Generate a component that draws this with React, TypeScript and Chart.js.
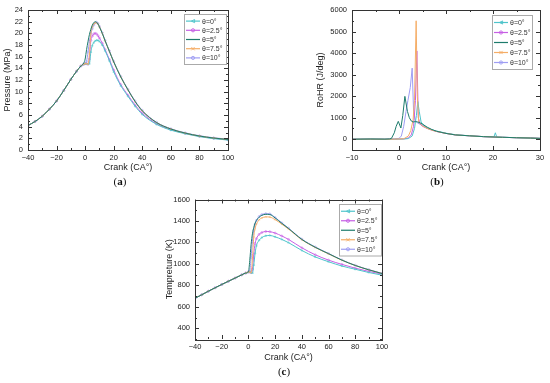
import React, { useEffect, useRef } from "react";
import { Chart, registerables } from "chart.js";
Chart.register(...registerables);

const FONT = "'Liberation Sans', Arial, sans-serif";

const seriesLabels = ["θ=0°", "θ=2.5°", "θ=5°", "θ=7.5°", "θ=10°"];
const seriesColors = ["#4fc4cb", "#c65fe4", "#1d7b6c", "#f5ad66", "#9e9df3"];
const seriesMarkers = ["triangle", "circle", "none", "crossRot", "circle"];

// ---------- (a) Pressure ----------
const crankA = [-40, -35, -30, -25, -20, -15, -10, -6, -3, -1, 0, 1, 2, 3, 4, 5, 6, 7, 8, 9, 10, 12, 14, 17, 20, 25, 30, 35, 40, 50, 60, 70, 80, 90, 100];
const compA = [4.2, 4.9, 5.8, 7.0, 8.4, 10.2, 12.1, 13.5, 14.4];
const pressure0 = [...compA, 14.7, 14.8, 14.8, 14.7, 14.8, 16.8, 17.9, 18.4, 18.7, 18.8, 18.8, 18.6, 18.0, 17.0, 15.3, 13.4, 11.0, 9.2, 7.5, 6.1, 4.4, 3.4, 2.8, 2.3, 1.95, 1.7];
const pressure25 = [...compA, 14.7, 14.8, 14.8, 14.7, 15.6, 18.8, 19.5, 19.9, 20.0, 19.9, 19.6, 19.2, 18.3, 17.2, 15.5, 13.7, 11.2, 9.4, 7.7, 6.3, 4.5, 3.5, 2.85, 2.35, 2.0, 1.75];
const pressure5 = [...compA, 14.9, 15.6, 17.2, 18.6, 19.8, 20.7, 21.4, 21.8, 22.0, 21.9, 21.6, 21.1, 20.0, 18.7, 16.9, 15.1, 12.5, 10.3, 8.3, 6.7, 4.7, 3.6, 2.9, 2.4, 2.05, 1.8];
const pressure75 = [...compA, 14.7, 14.8, 14.8, 14.7, 16.5, 20.0, 21.1, 21.6, 21.8, 21.8, 21.6, 21.1, 20.0, 18.7, 16.9, 15.1, 12.5, 10.3, 8.3, 6.7, 4.7, 3.6, 2.9, 2.4, 2.05, 1.8];
const pressure10 = [...compA, 14.7, 14.8, 15.2, 16.8, 18.6, 19.9, 20.8, 21.4, 21.8, 21.9, 21.7, 21.2, 20.1, 18.8, 17.0, 15.2, 12.6, 10.4, 8.4, 6.8, 4.75, 3.65, 2.95, 2.45, 2.1, 1.85];
const ticksAx = [-40, -20, 0, 20, 40, 60, 80, 100];
const ticksAy = [0, 2, 4, 6, 8, 10, 12, 14, 16, 18, 20, 22, 24];

// ---------- (b) RoHR ----------
const crankB0 = [-10, -6, -3, -1, 1, 2, 2.8, 3.3, 3.7, 4.0, 4.3, 4.7, 5.2, 6, 7, 8, 10, 12, 15, 18, 20.2, 20.5, 20.8, 22, 25, 28, 30];
const rohr0 = [0, 10, 0, 5, 10, 30, 150, 500, 1100, 1750, 1300, 800, 650, 520, 440, 380, 280, 210, 160, 120, 110, 300, 100, 95, 70, 50, 40];
const crankB25 = [-10, -6, -3, -1, 1, 2, 2.6, 3.1, 3.5, 3.8, 4.1, 4.5, 5, 6, 7, 8, 10, 12, 15, 18, 22, 25, 28, 30];
const rohr25 = [0, 5, 0, 5, 15, 60, 200, 600, 1800, 4100, 1000, 700, 600, 500, 420, 360, 270, 200, 160, 120, 90, 70, 55, 40];
const crankB5 = [-10, -6, -3, -2, -1.6, -1, -0.6, -0.15, 0.4, 0.8, 1.25, 1.8, 2.2, 2.6, 3, 3.5, 4, 4.5, 5, 6, 7, 8, 10, 12, 15, 18, 22, 25, 28, 30];
const rohr5 = [0, 10, 5, 15, 40, 300, 600, 830, 520, 1100, 1990, 1290, 1000, 850, 800, 820, 800, 760, 700, 560, 450, 370, 270, 200, 160, 120, 90, 70, 55, 40];
const crankB75 = [-10, -6, -3, -1, 1, 2, 2.5, 3, 3.3, 3.65, 3.9, 4.2, 4.6, 5, 6, 7, 8, 10, 12, 15, 18, 22, 25, 28, 30];
const rohr75 = [0, 5, 0, 5, 20, 150, 400, 900, 1800, 5500, 2000, 800, 700, 620, 500, 420, 360, 270, 200, 160, 120, 90, 70, 55, 40];
const crankB10 = [-10, -6, -3, -1, 0, 0.5, 1, 1.5, 1.9, 2.4, 2.8, 3.1, 3.5, 4, 5, 6, 7, 8, 10, 12, 15, 18, 22, 25, 28, 30];
const rohr10 = [0, 5, 0, 10, 40, 150, 600, 1300, 1800, 2400, 3300, 1300, 850, 750, 640, 520, 430, 360, 270, 200, 160, 120, 90, 70, 55, 40];
const ticksBx = [-10, 0, 10, 20, 30];
const ticksBy = [0, 1000, 2000, 3000, 4000, 5000, 6000];

// ---------- (c) Temperature ----------
const crankC = [-40, -35, -30, -25, -20, -15, -10, -5, -2, 0, 1, 2, 3, 4, 5, 6, 8, 10, 13, 16, 20, 25, 30, 40, 50, 60, 70, 80, 90, 100];
const compC = [680, 712, 745, 777, 808, 838, 868, 898, 915];
const temp0 = [...compC, 925, 925, 918, 915, 990, 1100, 1170, 1220, 1245, 1262, 1265, 1252, 1228, 1198, 1125, 1065, 1020, 980, 950, 920, 895];
const temp25 = [...compC, 925, 925, 918, 950, 1090, 1190, 1235, 1275, 1292, 1302, 1300, 1287, 1260, 1228, 1150, 1085, 1035, 995, 960, 930, 905];
const temp5 = [...compC, 925, 1030, 1180, 1280, 1340, 1380, 1405, 1435, 1452, 1462, 1460, 1428, 1378, 1330, 1228, 1155, 1095, 1035, 985, 945, 910];
const temp75 = [...compC, 925, 925, 918, 1050, 1250, 1330, 1370, 1410, 1428, 1438, 1436, 1412, 1370, 1325, 1225, 1153, 1093, 1034, 985, 945, 910];
const temp10 = [...compC, 925, 935, 1060, 1210, 1310, 1370, 1405, 1442, 1460, 1468, 1466, 1432, 1382, 1333, 1231, 1158, 1097, 1037, 987, 947, 912];
const ticksCx = [-40, -20, 0, 20, 40, 60, 80, 100];
const ticksCy = [400, 600, 800, 1000, 1200, 1400, 1600];

const fmt = (v: number) => (v < 0 ? "\u2212" + Math.abs(v) : String(v));

function drawMarker(ctx: CanvasRenderingContext2D, style: string, x: number, y: number, r: number, color: string) {
  if (style === "none") return;
  ctx.save();
  ctx.strokeStyle = color;
  ctx.fillStyle = color;
  ctx.lineWidth = 0.9;
  ctx.beginPath();
  if (style === "circle") {
    ctx.arc(x, y, r, 0, Math.PI * 2);
    ctx.stroke();
  } else if (style === "triangle") {
    ctx.moveTo(x - r, y);
    ctx.lineTo(x + r, y - r);
    ctx.lineTo(x + r, y + r);
    ctx.closePath();
    ctx.stroke();
  } else {
    ctx.moveTo(x - r, y - r);
    ctx.lineTo(x + r, y + r);
    ctx.moveTo(x - r, y + r);
    ctx.lineTo(x + r, y - r);
    ctx.stroke();
  }
  ctx.restore();
}

const framePlugin = {
  id: "frame",
  afterDatasetsDraw(chart: any) {
    const { ctx, chartArea: a, scales } = chart;
    const xs = scales.x, ys = scales.y;
    ctx.save();
    ctx.strokeStyle = "#333";
    ctx.lineWidth = 1;
    ctx.strokeRect(Math.round(a.left) + 0.5, Math.round(a.top) + 0.5, Math.round(a.right - a.left), Math.round(a.bottom - a.top));
    ctx.beginPath();
    const xv = xs.ticks.map((t: any) => t.value);
    const yv = ys.ticks.map((t: any) => t.value);
    const xmin: number[] = [];
    for (let i = 0; i < xv.length - 1; i++) xmin.push((xv[i] + xv[i + 1]) / 2);
    const ymin: number[] = [];
    for (let i = 0; i < yv.length - 1; i++) ymin.push((yv[i] + yv[i + 1]) / 2);
    if (yv[0] - (yv[1] - yv[0]) / 2 >= ys.min) ymin.push(yv[0] - (yv[1] - yv[0]) / 2);
    const vx = (vals: number[], len: number) => {
      vals.forEach((v) => {
        const p = Math.round(xs.getPixelForValue(v)) + 0.5;
        ctx.moveTo(p, a.bottom);
        ctx.lineTo(p, a.bottom - len);
        ctx.moveTo(p, a.top);
        ctx.lineTo(p, a.top + len);
      });
    };
    const vy = (vals: number[], len: number) => {
      vals.forEach((v) => {
        const p = Math.round(ys.getPixelForValue(v)) + 0.5;
        ctx.moveTo(a.left, p);
        ctx.lineTo(a.left + len, p);
        ctx.moveTo(a.right, p);
        ctx.lineTo(a.right - len, p);
      });
    };
    vx(xv, 4);
    vx(xmin, 2);
    vy(yv, 4);
    vy(ymin, 2);
    ctx.stroke();
    ctx.restore();
  },
};

const legendPlugin = {
  id: "boxLegend",
  afterDraw(chart: any, _args: any, opts: any) {
    const { ctx, chartArea: a } = chart;
    const ds = chart.data.datasets;
    const w = opts.width;
    const rh = opts.rowHeight;
    const h = rh * ds.length + 4;
    const x0 = Math.round(a.right - opts.rightGap - w);
    const y0 = Math.round(a.top + opts.topGap);
    ctx.save();
    ctx.fillStyle = "#fff";
    ctx.fillRect(x0, y0, w, h);
    ctx.strokeStyle = "#aaa";
    ctx.lineWidth = 1;
    ctx.strokeRect(x0 + 0.5, y0 + 0.5, w, h);
    ctx.font = "7px " + FONT;
    ctx.textBaseline = "middle";
    ds.forEach((d: any, i: number) => {
      const y = y0 + 2.5 + rh * (i + 0.5);
      ctx.strokeStyle = d.borderColor;
      ctx.lineWidth = 1.2;
      ctx.beginPath();
      ctx.moveTo(x0 + 2, y);
      ctx.lineTo(x0 + 16, y);
      ctx.stroke();
      drawMarker(ctx, seriesMarkers[i], x0 + 9, y, 1.6, d.borderColor);
      ctx.fillStyle = "#333";
      ctx.fillText(d.label, x0 + 18, y + 0.5);
    });
    ctx.restore();
  },
};

function makeScales(o: any) {
  const tickFont = { size: 7.5, family: FONT };
  const titleFont = { size: 9, family: FONT };
  return {
    x: {
      type: "linear",
      min: o.xMin,
      max: o.xMax,
      afterBuildTicks: (s: any) => {
        s.ticks = o.xTicks.map((v: number) => ({ value: v }));
      },
      afterFit: (s: any) => {
        s.height = o.xHeight;
      },
      grid: { display: false, drawTicks: false },
      border: { display: false },
      ticks: { font: tickFont, color: "#222", padding: 3, maxRotation: 0, autoSkip: false, callback: (v: any) => fmt(Number(v)) },
      title: { display: true, text: "Crank (CA°)", font: titleFont, color: "#222", padding: { top: 1, bottom: 3 } },
    },
    y: {
      type: "linear",
      min: o.yMin,
      max: o.yMax,
      afterBuildTicks: (s: any) => {
        s.ticks = o.yTicks.map((v: number) => ({ value: v }));
      },
      afterFit: (s: any) => {
        s.width = o.yWidth;
      },
      grid: { display: false, drawTicks: false },
      border: { display: false },
      ticks: { font: tickFont, color: "#222", padding: 5, autoSkip: false, callback: (v: any) => fmt(Number(v)) },
      title: { display: true, text: o.yTitle, font: titleFont, color: "#222", padding: { top: 2, bottom: 0 } },
    },
  };
}

function makeDatasets(xsList: number[][], ysList: number[][], smooth: boolean, markers: boolean) {
  const drawOrder = [2, 3, 0, 1, 4];
  return ysList.map((ys, i) => ({
    label: seriesLabels[i],
    data: ys.map((y, j) => ({ x: xsList[i][j], y })),
    borderColor: seriesColors[i],
    backgroundColor: seriesColors[i],
    borderWidth: 1,
    pointRadius: markers && seriesMarkers[i] !== "none" ? 1 : 0,
    pointStyle: seriesMarkers[i],
    pointBorderWidth: 0.5,
    pointBackgroundColor: "rgba(255,255,255,0)",
    order: drawOrder[i],
    cubicInterpolationMode: smooth ? "monotone" : "default",
    tension: 0,
  }));
}

function ChartPanel({ config, style }: { config: () => any; style: React.CSSProperties }) {
  const ref = useRef<HTMLCanvasElement | null>(null);
  useEffect(() => {
    if (!ref.current) return;
    const chart = new Chart(ref.current, config());
    return () => chart.destroy();
  }, []);
  return (
    <div style={{ position: "absolute", ...style }}>
      <canvas ref={ref} width={style.width as number} height={style.height as number} style={{ display: "block" }} />
    </div>
  );
}

const baseOptions = (scales: any, padding: any, legend: any) => ({
  responsive: false,
  animation: false,
  events: [],
  layout: { padding },
  scales,
  plugins: { legend: { display: false }, tooltip: { enabled: false }, boxLegend: legend },
});

const configA = () => ({
  type: "line",
  data: { datasets: makeDatasets([crankA, crankA, crankA, crankA, crankA], [pressure0, pressure25, pressure5, pressure75, pressure10], true, true) },
  options: baseOptions(
    makeScales({ xMin: -40, xMax: 100, xTicks: ticksAx, yMin: 0, yMax: 24, yTicks: ticksAy, yTitle: "Pressure (MPa)", yWidth: 28, xHeight: 26 }),
    { left: 0, right: 10, top: 10, bottom: 0 },
    { width: 42, rowHeight: 9.2, rightGap: 2, topGap: 4 }
  ),
  plugins: [framePlugin, legendPlugin],
});

const configB = () => ({
  type: "line",
  data: { datasets: makeDatasets([crankB0, crankB25, crankB5, crankB75, crankB10], [rohr0, rohr25, rohr5, rohr75, rohr10], false, false) },
  options: baseOptions(
    makeScales({ xMin: -10, xMax: 30, xTicks: ticksBx, yMin: -500, yMax: 6000, yTicks: ticksBy, yTitle: "RoHR (J/deg)", yWidth: 39, xHeight: 26 }),
    { left: 38, right: 10, top: 10, bottom: 0 },
    { width: 40, rowHeight: 10, rightGap: 8, topGap: 5 }
  ),
  plugins: [framePlugin, legendPlugin],
});

const configC = () => ({
  type: "line",
  data: { datasets: makeDatasets([crankC, crankC, crankC, crankC, crankC], [temp0, temp25, temp5, temp75, temp10], true, true) },
  options: baseOptions(
    makeScales({ xMin: -40, xMax: 100, xTicks: ticksCx, yMin: 300, yMax: 1600, yTicks: ticksCy, yTitle: "Tempreture (K)", yWidth: 33, xHeight: 27 }),
    { left: 22, right: 18, top: 9, bottom: 0 },
    { width: 42, rowHeight: 9.5, rightGap: 1, topGap: 4 }
  ),
  plugins: [framePlugin, legendPlugin],
});

function SubLabel({ letter, cx, cy }: { letter: string; cx: number; cy: number }) {
  return (
    <div
      style={{
        position: "absolute",
        left: cx - 20,
        top: cy - 7,
        width: 40,
        height: 14,
        lineHeight: "14px",
        textAlign: "center",
        fontFamily: "'Liberation Serif', serif",
        fontSize: 11,
        color: "#111",
      }}
    >
      (<b>{letter}</b>)
    </div>
  );
}

export default function App() {
  return (
    <div style={{ position: "absolute", left: 0, top: 0, width: 550, height: 383, background: "#fff", overflow: "hidden" }}>
      <ChartPanel config={configA} style={{ left: 0, top: 0, width: 238, height: 176 }} />
      <ChartPanel config={configB} style={{ left: 275, top: 0, width: 275, height: 176 }} />
      <ChartPanel config={configC} style={{ left: 140, top: 190, width: 260, height: 176 }} />
      <SubLabel letter="a" cx={120} cy={181} />
      <SubLabel letter="b" cx={437} cy={181} />
      <SubLabel letter="c" cx={284} cy={371} />
    </div>
  );
}
